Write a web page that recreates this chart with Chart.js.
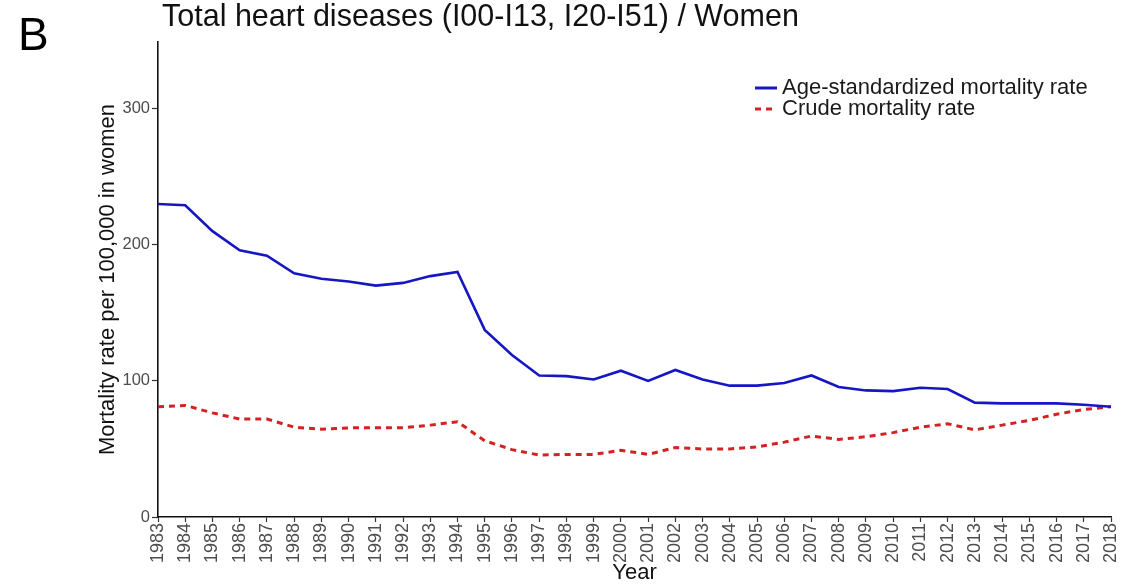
<!DOCTYPE html>
<html>
<head>
<meta charset="utf-8">
<script src="https://cdn.jsdelivr.net/npm/chart.js@4"></script>
<style>
  html, body { margin: 0; padding: 0; background: #fff; }
  #wrap { position: relative; width: 1141px; height: 586px; overflow: hidden; }
  #panel { position: absolute; left: 18px; top: 11px; font: 46px "Liberation Sans", Arial, sans-serif; color: #000; line-height: 1; }
  #title { position: absolute; left: 162px; top: -3px; font: 30.5px "Liberation Sans", Arial, sans-serif; color: #111; line-height: 1.2; white-space: nowrap; }
  canvas { position: absolute; left: 0; top: 0; }
</style>
</head>
<body>
<div id="wrap">
  <canvas id="c" width="1141" height="586"></canvas>
  <div id="panel">B</div>
  <div id="title">Total heart diseases (I00-I13, I20-I51) / Women</div>
</div>
<script>
const years = ["1983","1984","1985","1986","1987","1988","1989","1990","1991","1992","1993","1994","1995","1996","1997","1998","1999","2000","2001","2002","2003","2004","2005","2006","2007","2008","2009","2010","2011","2012","2013","2014","2015","2016","2017","2018"];
const ageStandardized = [230,229,210,196,192,179,175,173,170,172,177,180,137.5,119,104,103.5,101,107.5,100,108,101,96.5,96.5,98.5,104,95.5,93,92.5,95,94,84,83.5,83.5,83.5,82.5,81];
const crudeRate = [81,82,76.5,72,72,66,64.5,65.5,65.5,65.5,67.5,70,56,49.5,45.5,46,46,49,46,51,50,50,51.5,55,59.5,57,59,62,66,68.5,64,67.5,71,75.5,79,81];
const yTicks = [0,100,200,300];
const seriesLabels = ["Age-standardized mortality rate", "Crude mortality rate"];

const FONT = "'Liberation Sans', Arial, sans-serif";

const legendPlugin = {
  id: 'insideLegend',
  afterDraw(chart) {
    const ctx = chart.ctx;
    ctx.save();
    const x0 = 755, rows = [88, 109];
    chart.data.datasets.forEach((ds, i) => {
      const y = rows[i];
      ctx.strokeStyle = ds.borderColor;
      ctx.lineWidth = 3;
      ctx.setLineDash(ds.borderDash || []);
      ctx.beginPath();
      ctx.moveTo(x0, y);
      ctx.lineTo(x0 + 22, y);
      ctx.stroke();
      ctx.setLineDash([]);
      ctx.fillStyle = '#1a1a1a';
      ctx.font = "22px " + FONT;
      ctx.textBaseline = 'middle';
      ctx.textAlign = 'left';
      ctx.fillText(ds.label, 782, y);
    });
    ctx.restore();
  }
};

new Chart(document.getElementById('c'), {
  type: 'line',
  data: {
    labels: years,
    datasets: [
      {
        label: seriesLabels[0],
        data: ageStandardized,
        borderColor: '#1616c4',
        borderWidth: 2.6,
        pointRadius: 0,
        tension: 0,
        fill: false
      },
      {
        label: seriesLabels[1],
        data: crudeRate,
        borderColor: '#d42222',
        borderWidth: 3,
        borderDash: [6, 5],
        pointRadius: 0,
        tension: 0,
        fill: false
      }
    ]
  },
  options: {
    responsive: false,
    animation: false,
    devicePixelRatio: 1,
    layout: { padding: { top: 42, right: 30, left: 91, bottom: 0 } },
    plugins: {
      legend: { display: false },
      title: { display: false },
      tooltip: { enabled: false }
    },
    scales: {
      x: {
        type: 'category',
        offset: false,
        grid: { display: true, drawOnChartArea: false, drawTicks: true, tickLength: 5, tickColor: '#333', tickWidth: 1.2 },
        border: { display: true, color: '#111', width: 1.6 },
        ticks: {
          autoSkip: false,
          maxRotation: 90,
          minRotation: 90,
          padding: 1,
          color: '#4d4d4d',
          font: { family: FONT, size: 18 }
        },
        title: {
          display: true,
          text: 'Year',
          color: '#111',
          font: { family: FONT, size: 22 },
          padding: { top: 0, bottom: 0 }
        },
        afterFit(scale) { scale.height = 69; }
      },
      y: {
        type: 'linear',
        min: 0,
        max: 349,
        grid: { display: true, drawOnChartArea: false, drawTicks: true, tickLength: 6, tickColor: '#333', tickWidth: 1.2 },
        border: { display: true, color: '#111', width: 1.6 },
        ticks: {
          padding: 2,
          color: '#4d4d4d',
          font: { family: FONT, size: 16.5 }
        },
        afterBuildTicks(scale) { scale.ticks = yTicks.map(v => ({ value: v })); },
        title: {
          display: true,
          text: 'Mortality rate per 100,000 in women',
          color: '#111',
          font: { family: FONT, size: 22 },
          padding: { top: 4, bottom: 0 }
        },
        afterFit(scale) { scale.width = 67; }
      }
    }
  },
  plugins: [legendPlugin]
});
</script>
</body>
</html>
